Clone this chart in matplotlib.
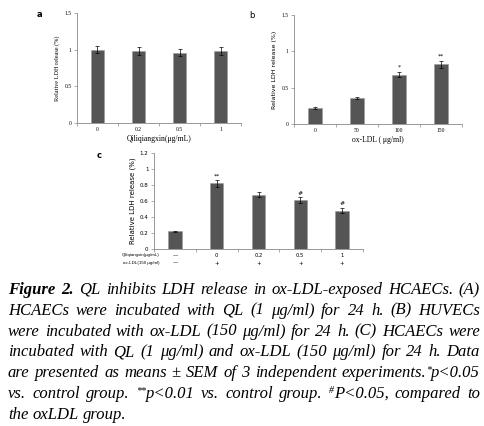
import re
import numpy as np
import matplotlib.pyplot as plt
from matplotlib.ticker import FixedLocator

# panel a: QL alone
a_labels = ['0', '0.2', '0.5', '1']
a_vals = [1.00, 0.98, 0.96, 0.98]
a_err = [0.05, 0.05, 0.05, 0.05]

# panel b: ox-LDL dose
b_labels = ['0', '50', '100', '150']
b_vals = [0.22, 0.36, 0.68, 0.82]
b_err = [0.01, 0.015, 0.04, 0.05]
b_marks = ['', '', '*', '**']

# panel c: QL + ox-LDL
c_ql = ['—', '0', '0.2', '0.5', '1']
c_ox = ['—', '+', '+', '+', '+']
c_vals = [0.22, 0.82, 0.68, 0.61, 0.48]
c_err = [0.01, 0.04, 0.03, 0.035, 0.035]
c_marks = ['', '**', '', '#', '#']

caption = [
    "QL inhibits LDH release in ox-LDL-exposed HCAECs. (A)",
    "HCAECs were incubated with QL (1 μg/ml) for 24 h. (B) HUVECs",
    "were incubated with ox-LDL (150 μg/ml) for 24 h. (C) HCAECs were",
    "incubated with QL (1 μg/ml) and ox-LDL (150 μg/ml) for 24 h. Data",
    "are presented as means ± SEM of 3 independent experiments.^{*}p<0.05",
    "vs. control group. ^{**}p<0.01 vs. control group. ^{#}P<0.05, compared to",
    "the oxLDL group.",
]

W, H = 485, 426
BAR = '#555555'
fig = plt.figure(figsize=(W / 100, H / 100), dpi=100)


def px_rect(x0, y0, x1, y1):
    return [x0 / W, 1 - y1 / H, (x1 - x0) / W, (y1 - y0) / H]


def bar_panel(ax, vals, err, ymax, yticks, ytl, fam):
    x = np.arange(len(vals))
    ax.bar(x, vals, width=0.32, color=BAR, edgecolor='#9a9a9a', linewidth=0.4, zorder=2)
    ax.errorbar(x, vals, yerr=err, fmt='none', ecolor='black', elinewidth=0.5,
                capsize=1.2, capthick=0.5, zorder=3)
    ax.set_xlim(-0.5, len(vals) - 0.5)
    ax.set_ylim(0, ymax)
    ax.set_yticks(yticks)
    ax.set_yticklabels(ytl, fontsize=4, family=fam)
    ax.set_xticks(x)
    ax.xaxis.set_minor_locator(FixedLocator(np.arange(len(vals) + 1) - 0.5))
    ax.tick_params(axis='x', which='major', length=0, pad=3)
    ax.tick_params(axis='x', which='minor', length=2, width=0.5, color='#888888')
    ax.tick_params(axis='y', length=2, width=0.5, color='#888888', pad=2)
    for s in ['top', 'right']:
        ax.spines[s].set_visible(False)
    for s in ['left', 'bottom']:
        ax.spines[s].set_color('#888888')
        ax.spines[s].set_linewidth(0.6)
    return x


# a
axa = fig.add_axes(px_rect(77, 13, 241, 123))
xa = bar_panel(axa, a_vals, a_err, 1.5, [0, 0.5, 1, 1.5], ['0', '0.5', '1', '1.5'], 'Liberation Serif')
axa.set_xticklabels(a_labels, fontsize=4, family='Liberation Serif')
axa.set_ylabel('Relative LDH release (%)', fontsize=4.5, family='Liberation Serif', labelpad=3)
axa.set_xlabel('Qiliqiangxin(μg/mL)', fontsize=5.5, family='Liberation Serif', labelpad=2)
fig.text(37 / W, 1 - 17 / H, 'a', fontsize=6, family='DejaVu Sans', weight='bold')

# b
axb = fig.add_axes(px_rect(294, 15, 462, 124))
xb = bar_panel(axb, b_vals, b_err, 1.5, [0, 0.5, 1, 1.5], ['0', '0.5', '1', '1.5'], 'Liberation Serif')
axb.set_xticklabels(b_labels, fontsize=4, family='Liberation Serif')
axb.set_ylabel('Relative LDH release (%)', fontsize=4.5, family='DejaVu Sans', labelpad=3)
axb.set_xlabel('ox-LDL ( μg/ml)', fontsize=5.5, family='Liberation Serif', labelpad=2)
for xi, v, e, m in zip(xb, b_vals, b_err, b_marks):
    axb.text(xi, v + e + 0.03, m, ha='center', va='bottom', fontsize=4.5)
fig.text(249 / W, 1 - 18 / H, 'b', fontsize=6, family='DejaVu Sans')

# c
axc = fig.add_axes(px_rect(154, 153, 363, 249))
xc = bar_panel(axc, c_vals, c_err, 1.2, np.arange(0, 1.21, 0.2),
               ['0', '0.2', '0.4', '0.6', '0.8', '1', '1.2'], 'DejaVu Sans')
axc.set_xticklabels([q + '\n' + o for q, o in zip(c_ql, c_ox)], fontsize=3.8,
                    family='DejaVu Sans', linespacing=1.6)
axc.set_ylabel('Relative LDH release (%)', fontsize=5, family='DejaVu Sans', labelpad=3)
for xi, v, e, m in zip(xc, c_vals, c_err, c_marks):
    axc.text(xi, v + e + 0.02, m, ha='center', va='bottom', fontsize=4.5)
fig.text(122 / W, 1 - 256 / H, 'Qiliqiangxin(μg/mL)', fontsize=3.2, family='Liberation Sans')
fig.text(123 / W, 1 - 264 / H, 'ox-LDL(150 μg/ml)', fontsize=3.2, family='Liberation Sans')
fig.text(97 / W, 1 - 158 / H, 'c', fontsize=6, family='DejaVu Sans', weight='bold')

# caption, justified line by line
fig.canvas.draw()
rend = fig.canvas.get_renderer()
FS = 12.0
SERIF = 'Liberation Serif'
x_left, x_right = 8, 480
y0, dy = 294, 20.8


def parse(word):
    segs = []
    for part in re.split(r'(\^\{[^}]*\})', word):
        if not part:
            continue
        if part.startswith('^{'):
            segs.append((part[2:-1], True))
        else:
            segs.append((part, False))
    return segs


def seg_width(s, sup, weight='normal'):
    t = fig.text(0, 0, s, fontsize=FS * 0.6 if sup else FS, family=SERIF,
                 style='italic', weight=weight)
    w = t.get_window_extent(rend).width
    t.remove()
    return w


for i, line in enumerate(caption):
    yb = 1 - (y0 + i * dy) / H
    words = []
    if i == 0:
        words.append([('Figure', False, 'bold')])
        words.append([('2.', False, 'bold')])
    for w in line.split(' '):
        words.append([(s, sup, 'normal') for s, sup in parse(w)])
    widths = [sum(seg_width(s, sup, wt) for s, sup, wt in wd) for wd in words]
    if i < len(caption) - 1:
        gap = (x_right - x_left - sum(widths)) / (len(words) - 1)
    else:
        gap = seg_width('a a', False) - 2 * seg_width('a', False)
        gap = max(gap, 3)
    x = x_left
    for wd, wdt in zip(words, widths):
        xx = x
        for s, sup, wt in wd:
            fs = FS * 0.6 if sup else FS
            yy = yb + (5 / H if sup else 0)
            fig.text(xx / W, yy, s, fontsize=fs, family=SERIF, style='italic',
                     weight=wt, va='baseline', ha='left')
            xx += seg_width(s, sup, wt)
        x += wdt + gap

fig.savefig('out.png', dpi=100)
